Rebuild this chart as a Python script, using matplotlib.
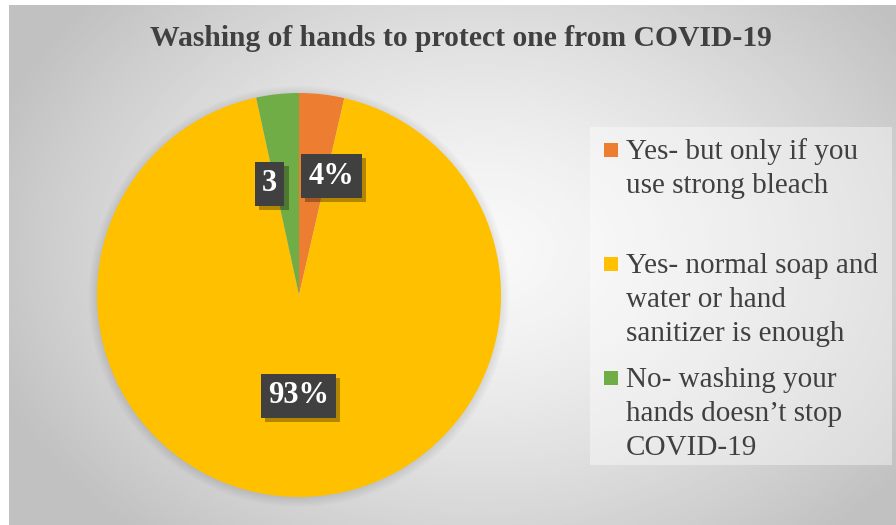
import numpy as np
import matplotlib
matplotlib.use("Agg")
import matplotlib.pyplot as plt
from matplotlib.patches import Rectangle, Circle
import matplotlib.patheffects as pe

# ---- data ----
categories = [
    "Yes- but only if you\nuse strong bleach",
    "Yes- normal soap and\nwater or hand\nsanitizer is enough",
    "No- washing your\nhands doesn\u2019t stop\nCOVID-19",
]
values = [3.6, 93.0, 3.4]
value_labels = ["4%", "93%", "3"]
colors = ["#ED7D31", "#FFC000", "#70AD47"]
title = "Washing of hands to protect one from COVID-19"

W, H = 896, 525
SERIF = ["Liberation Serif", "DejaVu Serif"]

fig = plt.figure(figsize=(W / 100, H / 100), dpi=100, facecolor="white")

# ---- background gradient (chart area) ----
bg = fig.add_axes([9 / W, 0, (W - 9) / W, (H - 5) / H])
bg.set_axis_off()
ny, nx = 260, 444
yy, xx = np.mgrid[0:ny, 0:nx]
px = 9 + xx * (W - 9) / nx
py = 5 + yy * (H - 5) / ny
cx, cy = 480, 250
r = np.sqrt(((px - cx) / 520) ** 2 + ((py - cy) / 380) ** 2)
val = 0.975 - 0.22 * np.clip(r, 0, 1) ** 1.4
bg.imshow(val, cmap="gray", vmin=0, vmax=1, aspect="auto",
          extent=[0, 1, 0, 1], interpolation="bilinear")
bg.set_xlim(0, 1)
bg.set_ylim(0, 1)

# ---- pie ----
pcx, pcy, pr = 299, 295, 202
ax = fig.add_axes([(pcx - pr - 10) / W, (H - pcy - pr - 10) / H,
                   (2 * pr + 20) / W, (2 * pr + 20) / H])
ax.set_axis_off()
lim = (pr + 10) / pr

# soft shadow halo
for k in range(8):
    ax.add_patch(Circle((0.0, -0.006), 1 + 0.006 * k, color="black",
                        alpha=0.012, lw=0, zorder=0))

wedges, _ = ax.pie(values, colors=colors, startangle=90, counterclock=False,
                   radius=1, wedgeprops=dict(linewidth=0), frame=True)
for w in wedges:
    w.set_zorder(2)
ax.set_xlim(-lim, lim)
ax.set_ylim(-lim, lim)
ax.set_aspect("equal")
ax.set_axis_off()

label_r = [0.61, 0.50, 0.57]
label_dang = [-8.8, 0.0, 8.7]
for w, lab, rr, da in zip(wedges, value_labels, label_r, label_dang):
    th = np.deg2rad((w.theta1 + w.theta2) / 2 + da)
    t = ax.text(rr * np.cos(th), rr * np.sin(th), lab, ha="center", va="center",
                fontsize=22, fontweight="bold", color="white", family=SERIF,
                zorder=5,
                bbox=dict(boxstyle="square,pad=0.24", facecolor="#404040",
                          edgecolor="none"))
    t.get_bbox_patch().set_path_effects(
        [pe.SimplePatchShadow(offset=(3, -3), shadow_rgbFace="black", alpha=0.3),
         pe.Normal()])

# ---- overlay in pixel coords (title + legend) ----
ov = fig.add_axes([0, 0, 1, 1])
ov.set_axis_off()
ov.set_xlim(0, W)
ov.set_ylim(H, 0)
ov.patch.set_alpha(0)

ov.text(461, 46, title, ha="center", va="baseline", fontsize=21.3,
        fontweight="bold", color="#404040", family=SERIF)

# legend panel
ov.add_patch(Rectangle((590, 127), 302, 338, facecolor="white", alpha=0.4,
                       edgecolor="none"))
slot = 114
for i, (lab, col) in enumerate(zip(categories, colors)):
    base = 159 + i * slot
    ov.add_patch(Rectangle((604, base - 16), 14, 14, facecolor=col,
                           edgecolor="none"))
    for j, line in enumerate(lab.split("\n")):
        ov.text(626, base + 34 * j, line, ha="left", va="baseline",
                fontsize=21, color="#404040", family=SERIF)

fig.savefig("out.png", dpi=100, facecolor="white")
